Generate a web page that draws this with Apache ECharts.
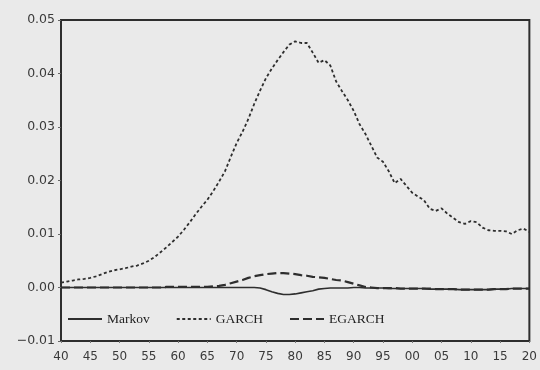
<!DOCTYPE html>
<html>
<head>
<meta charset="utf-8">
<script src="https://cdn.jsdelivr.net/npm/echarts@6/dist/echarts.min.js"></script>
<style>
  html, body { margin: 0; padding: 0; background: #eaeaea; }
  #chart { width: 540px; height: 370px; }
</style>
</head>
<body>
<div id="chart"></div>
<script>
// Annual observations, 1940–2020
const years = [];
for (let y = 1940; y <= 2020; y++) years.push(y);

const seriesNames = ['Markov', 'GARCH', 'EGARCH'];

const markov = [
  0.0000, 0.0000, 0.0000, 0.0000, 0.0000, 0.0000, 0.0000, 0.0000, 0.0000, 0.0000, // 1940s
  0.0000, 0.0000, 0.0000, 0.0000, 0.0000, 0.0000, 0.0000, 0.0000, 0.0000, 0.0000, // 1950s
  0.0000, 0.0000, 0.0000, 0.0000, 0.0000, 0.0000, 0.0000, 0.0000, 0.0000, 0.0000, // 1960s
  0.0000, 0.0000, 0.0000, 0.0000, -0.0001, -0.0004, -0.0008, -0.0011, -0.0013, -0.0013, // 1970s
  -0.0012, -0.0010, -0.0008, -0.0006, -0.0003, -0.0002, -0.0001, -0.0001, -0.0001, -0.0001, // 1980s
  0.0000, 0.0000, -0.0001, -0.0001, -0.0001, -0.0001, -0.0002, -0.0002, -0.0002, -0.0002, // 1990s
  -0.0002, -0.0002, -0.0002, -0.0003, -0.0003, -0.0003, -0.0003, -0.0003, -0.0004, -0.0004, // 2000s
  -0.0004, -0.0004, -0.0004, -0.0004, -0.0003, -0.0003, -0.0003, -0.0002, -0.0002, -0.0002, // 2010s
  -0.0002
];

const garch = [
  0.0009, 0.0011, 0.0013, 0.0015, 0.0016, 0.0018, 0.0021, 0.0025, 0.0029, 0.0032,
  0.0034, 0.0036, 0.0039, 0.0041, 0.0045, 0.0050, 0.0057, 0.0066, 0.0075, 0.0085,
  0.0095, 0.0108, 0.0122, 0.0137, 0.0151, 0.0164, 0.0180, 0.0198, 0.0217, 0.0244,
  0.0270, 0.0291, 0.0315, 0.0343, 0.0368, 0.0391, 0.0409, 0.0425, 0.0440, 0.0454,
  0.0460, 0.0457, 0.0457, 0.0439, 0.0420, 0.0425, 0.0415, 0.0385, 0.0367, 0.0350,
  0.0330, 0.0305, 0.0287, 0.0265, 0.0243, 0.0235, 0.0217, 0.0195, 0.0203, 0.0190,
  0.0177, 0.0170, 0.0163, 0.0147, 0.0143, 0.0148, 0.0138, 0.0130, 0.0122, 0.0119,
  0.0124, 0.0122, 0.0112, 0.0107, 0.0106, 0.0106, 0.0105, 0.0100, 0.0107, 0.0110,
  0.0104
];

const egarch = [
  0.0000, 0.0000, 0.0000, 0.0000, 0.0000, 0.0000, 0.0000, 0.0000, 0.0000, 0.0000,
  0.0000, 0.0000, 0.0000, 0.0000, 0.0000, 0.0000, 0.0000, 0.0000, 0.0001, 0.0001,
  0.0001, 0.0001, 0.0001, 0.0001, 0.0001, 0.0001, 0.0002, 0.0003, 0.0005, 0.0008,
  0.0011, 0.0014, 0.0018, 0.0021, 0.0023, 0.0025, 0.0026, 0.0027, 0.0027, 0.0026,
  0.0025, 0.0023, 0.0022, 0.0020, 0.0019, 0.0018, 0.0016, 0.0014, 0.0013, 0.0010,
  0.0007, 0.0004, 0.0001, 0.0000, -0.0001, -0.0001, -0.0001, -0.0001, -0.0002, -0.0002,
  -0.0002, -0.0002, -0.0002, -0.0002, -0.0003, -0.0003, -0.0003, -0.0003, -0.0004, -0.0004,
  -0.0004, -0.0004, -0.0004, -0.0004, -0.0003, -0.0003, -0.0003, -0.0002, -0.0002, -0.0002,
  -0.0002
];

const yTicks = [-0.01, 0.00, 0.01, 0.02, 0.03, 0.04, 0.05];

const pairs = vals => years.map((y, i) => [y, vals[i]]);
const ink = '#2e2e2e';

const chart = echarts.init(document.getElementById('chart'));
chart.setOption({
  backgroundColor: '#eaeaea',
  animation: false,
  grid: {
    left: 61, right: 6, top: 20, bottom: 29,
    show: true, borderColor: ink, borderWidth: 2, backgroundColor: 'transparent'
  },
  legend: {
    data: seriesNames,
    left: 62, top: 307,
    itemWidth: 34, itemHeight: 12, itemGap: 26,
    itemStyle: { opacity: 0 },
    textStyle: { fontFamily: 'Liberation Serif', fontSize: 13.5, color: '#222' }
  },
  xAxis: {
    type: 'value', min: 1940, max: 2020, interval: 5,
    splitLine: { show: false },
    axisLine: { show: false, onZero: false },
    axisTick: { show: true, length: 2, lineStyle: { color: '#777' } },
    axisLabel: {
      margin: 10,
      color: '#3a3a3a', fontFamily: 'DejaVu Sans', fontSize: 12,
      formatter: v => String(v % 100).padStart(2, '0')
    }
  },
  yAxis: {
    type: 'value', min: yTicks[0], max: yTicks[yTicks.length - 1], interval: 0.01,
    splitLine: { show: false },
    axisLine: { show: false },
    axisTick: { show: true, length: 3, lineStyle: { color: '#666' } },
    axisLabel: {
      margin: 6,
      color: '#3a3a3a', fontFamily: 'DejaVu Sans', fontSize: 12.5,
      formatter: v => (v < 0 ? '\u2212' : '') + Math.abs(v).toFixed(2)
    }
  },
  series: [
    {
      name: seriesNames[0], type: 'line', data: pairs(markov), showSymbol: false, symbol: 'none',
      lineStyle: { color: ink, width: 1.6, type: 'solid' }, itemStyle: { color: ink }
    },
    {
      name: seriesNames[1], type: 'line', data: pairs(garch), showSymbol: false, symbol: 'none',
      lineStyle: { color: ink, width: 1.8, type: [3, 2.5] }, itemStyle: { color: ink }
    },
    {
      name: seriesNames[2], type: 'line', data: pairs(egarch), showSymbol: false, symbol: 'none',
      lineStyle: { color: ink, width: 2.2, type: [9, 4] }, itemStyle: { color: ink }
    }
  ]
});
</script>
</body>
</html>
